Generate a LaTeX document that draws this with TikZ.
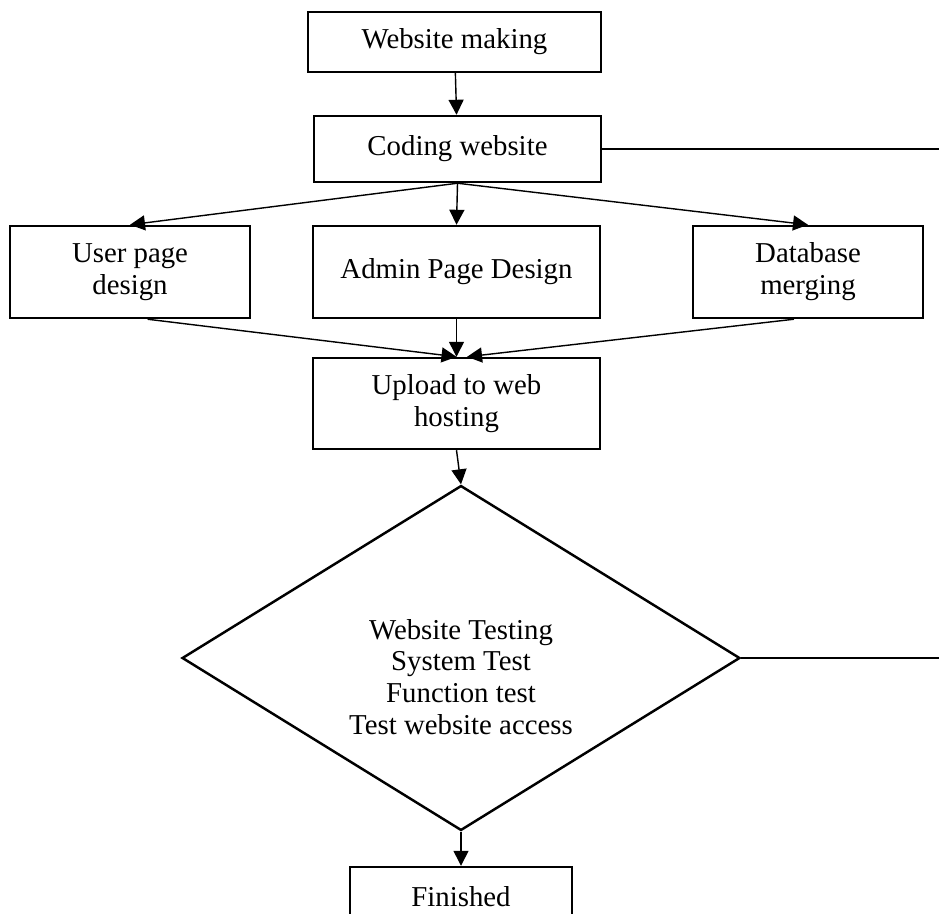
\documentclass[tikz,border=0pt]{standalone}
\usepackage{fontspec}
\setmainfont{Liberation Serif}
\usetikzlibrary{arrows.meta,shapes.geometric}

\begin{document}
\begin{tikzpicture}
		[x=0.02cm, y=-0.02cm,
		block/.style ={rectangle, draw=black, line width=1.4pt, align=center, inner sep=0pt, font=\fontsize{16.4}{18.1}\selectfont},
		wide/.style = {block, minimum width=5.74cm},
		line/.style ={line width=0.8pt, -{Triangle[length=0.3cm,width=0.3cm]}},
		plain/.style ={line width=0.8pt},
		test/.style ={diamond, draw=black, line width=1.4pt, aspect=1.6, inner sep=0pt, minimum width=11.16cm, minimum height=6.9cm},
		]
		\useasboundingbox (0,0) rectangle (939,913);
		\clip (0,0) rectangle (939,913);

		\draw (454.5,42) node[block, minimum width=5.86cm, minimum height=1.2cm] (W1) {Website making};
		\draw (457.5,149) node[wide, minimum height=1.32cm] (W2) {Coding website};
		\draw (130,272) node[block, minimum width=4.8cm, minimum height=1.84cm] (W3) {User page\\design};
		\draw (456.5,272) node[wide, minimum height=1.84cm] (W4) {Admin Page Design};
		\draw (808,272) node[block, minimum width=4.6cm, minimum height=1.84cm] (W5) {Database\\merging};
		\draw (456.5,403.5) node[wide, minimum height=1.82cm] (W6) {Upload to web\\hosting};
		\draw (461,658) node[test] (W7) {};
		\draw (461,677) node[align=center, inner sep=0pt, font=\fontsize{16.4}{18.1}\selectfont] (T1) {Website Testing\\System Test\\Function test\\Test website access};
		\draw (461,897) node[block, minimum width=4.44cm, minimum height=1.2cm] (W8) {Finished};

		\coordinate (E1) at (939,149);
		\coordinate (E2) at (939,658);

		\path[line]
		(W1) edge (W2)
		(W2.south) edge (W3.north)
		(W2.south) edge (W4.north)
		(W2.south) edge (W5.north)
		([xshift=10]W3.south) edge (W6.north)
		(W4.south) edge (W6.north)
		([xshift=-8]W5.south) edge ([xshift=6]W6.north)
		(W6.south) edge (W7.north)
		(W7.south) edge (W8.north);

		\path[plain] (W2.east) edge (E1)
		(W7.east) edge (E2);

	\end{tikzpicture}
\end{document}
